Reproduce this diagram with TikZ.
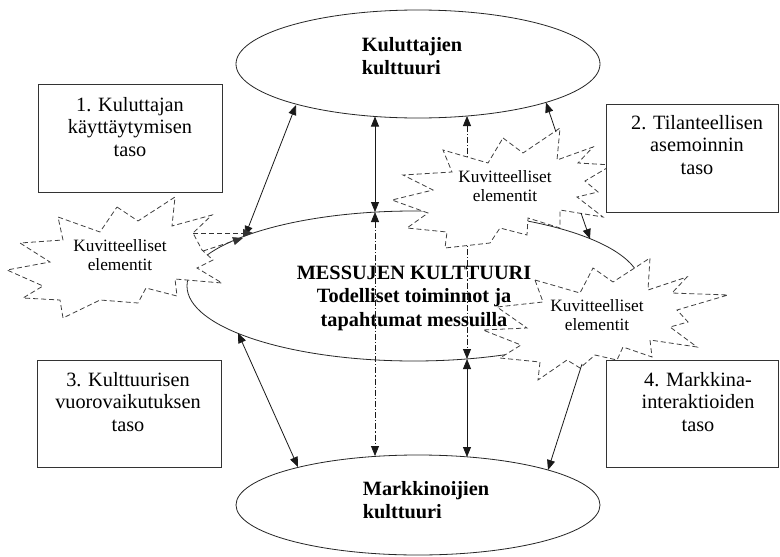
\documentclass[tikz,border=0pt]{standalone}
\usepackage{fontspec}
\setmainfont{Liberation Serif}
\usetikzlibrary{arrows.meta,shapes.geometric}
\newcommand\myfs[2]{\fontsize{#1}{#2}\selectfont}
\begin{document}
\begin{tikzpicture}[x=1pt,y=-1pt,
  >={Triangle[length=10pt,width=8pt]},
  every node/.style={inner sep=0pt,outer sep=0pt},
  ln/.style={line width=0.8pt,draw=black!90},
  ell/.style={ellipse,line width=0.8pt,draw=black!85},
  boxl/.style={line width=1pt,draw=black!80,fill=white},
  burst/.style={line width=0.8pt,draw=black!75,fill=white,dash pattern=on 5pt off 3pt,line join=miter},
  dd/.style={line width=0.8pt,draw=black!90,dash pattern=on 6pt off 2pt on 1.2pt off 2pt},
  ds/.style={line width=0.8pt,draw=black!80,dash pattern=on 5pt off 3pt},
  boxtxt/.style={align=center,font=\myfs{20.3}{22.7}},
  burtxt/.style={align=center,font=\myfs{17.3}{19}},
  bigtxt/.style={align=center,font=\bfseries\myfs{20.3}{23.5}},
  elltxt/.style={align=left,font=\bfseries\myfs{20.3}{23}}
]
\fill[white] (0,0) rectangle (780,557);
\useasboundingbox (0,0) rectangle (780,557);

% ellipses
\node[ell,minimum width=364pt,minimum height=108pt] (kul) at (418,64) {};
\node[ell,minimum width=454pt,minimum height=150pt] (mes) at (414,286) {};
\node[ell,minimum width=364pt,minimum height=100pt] (mar) at (418,505) {};

% end points on the ellipses and bursts
\coordinate (a1a) at (245,236); \coordinate (a1b) at (296,105);
\coordinate (a2a) at (375,116.5); \coordinate (a2b) at (375,212);
\coordinate (a3b) at (375,456);
\coordinate (a4a) at (467,116); \coordinate (a4b) at (467,359);
\coordinate (a5b) at (467,457);
\coordinate (a6a) at (556,132); \coordinate (a6b) at (546,102.5);
\coordinate (a7a) at (581,213); \coordinate (a7b) at (590,239);
\coordinate (a8a) at (193,233); \coordinate (a8b) at (253,233);
\coordinate (a9a) at (203,251); \coordinate (a9b) at (243,238);
\coordinate (a10a) at (238,333); \coordinate (a10b) at (298,467);
\coordinate (a11a) at (582,364); \coordinate (a11b) at (548,470);

% dash-dot connectors
\draw[dd,<->] (a2b) -- (a3b);
\draw[dd,<->] (a4a) -- (a4b);

% bursts
\draw[burst] (117,207) -- (138,221) -- (175,197) -- (172,226) -- (212,215) -- (193,233) -- (202,250) -- (213,260) -- (197,268) -- (222,283) -- (175,279) -- (177,296) -- (146,288) -- (138,303) -- (100,300) -- (63,318) -- (60,300) -- (23,298) -- (43,286) -- (7,270) -- (50,262) -- (20,243) -- (63,240) -- (58,217) -- (100,232) -- cycle;
\draw[burst] (503,138) -- (523,153) -- (560,128) -- (557,160) -- (593,147) -- (578,163) -- (612,165) -- (585,181) -- (598,192) -- (577,197) -- (603,217) -- (560,210) -- (560,228) -- (528,218) -- (527,235) -- (500,228) -- (490,243) -- (445,248) -- (447,232) -- (407,228) -- (428,213) -- (392,200) -- (433,190) -- (403,175) -- (452,172) -- (443,150) -- (488,163) -- cycle;
\draw[burst] (535,280) -- (580,293) -- (593,268) -- (613,282) -- (630,271) -- (650,258) -- (648,290) -- (687,277) -- (672,293) -- (728,295) -- (677,310) -- (688,322) -- (670,327) -- (697,347) -- (650,340) -- (652,357) -- (623,347) -- (617,360) -- (595,355) -- (580,368) -- (567,360) -- (538,380) -- (540,362) -- (500,358) -- (521,345) -- (483,330) -- (527,328) -- (497,307) -- (543,302) -- cycle;

% boxes
\draw[boxl] (38,84) rectangle (222,192);
\draw[boxl] (606,104) rectangle (778,212);
\draw[boxl] (37,360) rectangle (221,467);
\draw[boxl] (606,360) rectangle (778,467);

% solid connectors
\draw[ln,<->] (a1a) -- (a1b);
\draw[ln,<->] (a2a) -- (a2b);
\draw[ln,<->] (a4b) -- (a5b);
\draw[ln,->] (a6a) -- (a6b);
\draw[ln,->] (a7a) -- (a7b);
\draw[ds,->] (a8a) -- (a8b);
\draw[ds,->] (a9a) -- (a9b);
\draw[ln,<->] (a10a) -- (a10b);
\draw[ln,->] (a11a) -- (a11b);

% texts
\node[elltxt] (kult) at (412,56) {Kuluttajien\\kulttuuri};
\node[bigtxt] (mest) at (414,298) {MESSUJEN KULTTUURI\\Todelliset toiminnot ja\\tapahtumat messuilla};
\node[elltxt] (mart) at (426,500) {Markkinoijien\\kulttuuri};
\node[boxtxt] (t1) at (130,127) {1. Kuluttajan\\käyttäytymisen\\taso};
\node[boxtxt] (t2) at (697,145) {2. Tilanteellisen\\asemoinnin\\taso};
\node[boxtxt] (t3) at (128,402) {3. Kulttuurisen\\vuorovaikutuksen\\taso};
\node[boxtxt] (t4) at (698,402) {4. Markkina-\\interaktioiden\\taso};
\node[burtxt] (k1) at (120,255) {Kuvitteelliset\\elementit};
\node[burtxt] (k2) at (505,186) {Kuvitteelliset\\elementit};
\node[burtxt] (k3) at (597,315) {Kuvitteelliset\\elementit};
\end{tikzpicture}
\end{document}
